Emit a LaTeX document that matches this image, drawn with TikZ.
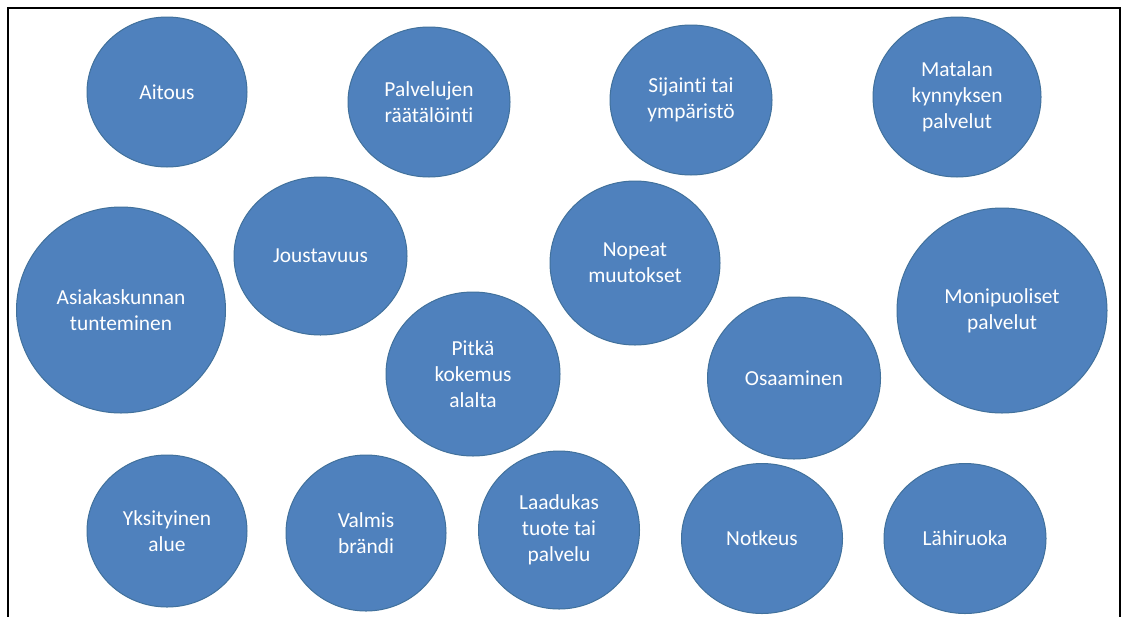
\documentclass[tikz,border=0pt]{standalone}
\usepackage{fontspec}
\setmainfont{Carlito}[Ligatures=NoCommon]
\usetikzlibrary{shapes.geometric}
\definecolor{ovalblue}{HTML}{4F81BD}
\definecolor{ovaledge}{HTML}{41719C}

\begin{document}
\begin{tikzpicture}[x=0.5pt,y=-0.5pt,
    oval/.style={ellipse,fill=ovalblue,draw=ovaledge,line width=0.5pt,text=white,align=center,inner sep=0pt,font=\fontsize{10.7}{13}\selectfont}]
    \clip (0,0) rectangle (1123,616);
    \fill[white] (0,0) rectangle (1123,616);
    \draw[line width=1pt] (8,8) rectangle (1120,640);
    \node[oval,minimum width=80pt,minimum height=75pt] (aitous) at (167,92) {Aitous};
    \node[oval,minimum width=81pt,minimum height=75pt] (raatalointi) at (429,102) {Palvelujen\\räätälöinti};
    \node[oval,minimum width=81pt,minimum height=75pt] (sijainti) at (691,100) {Sijainti tai\\ympäristö};
    \node[oval,minimum width=84pt,minimum height=80pt] (kynnys) at (957,97) {Matalan\\kynnyksen\\palvelut};
    \node[oval,minimum width=86.5pt,minimum height=79pt] (joustavuus) at (320.5,256) {Joustavuus};
    \node[oval,minimum width=85pt,minimum height=82pt] (nopeat) at (635,263) {Nopeat\\muutokset};
    \node[oval,minimum width=104.5pt,minimum height=103pt] (asiakas) at (121,310) {Asiakaskunnan\\tunteminen};
    \node[oval,minimum width=105pt,minimum height=102.5pt] (monipuoliset) at (1002,310.5) {Monipuoliset\\palvelut};
    \node[oval,minimum width=87pt,minimum height=82pt] (pitka) at (473,374) {Pitkä\\kokemus\\alalta};
    \node[oval,minimum width=86.5pt,minimum height=81pt] (osaaminen) at (794,378) {Osaaminen};
    \node[oval,minimum width=80pt,minimum height=76pt] (yksityinen) at (167,531) {Yksityinen\\alue};
    \node[oval,minimum width=80pt,minimum height=78pt] (brandi) at (366,533) {Valmis\\brändi};
    \node[oval,minimum width=80.5pt,minimum height=79pt] (laadukas) at (559,530) {Laadukas\\tuote tai\\palvelu};
    \node[oval,minimum width=80.5pt,minimum height=75pt] (notkeus) at (762,538.5) {Notkeus};
    \node[oval,minimum width=81pt,minimum height=75pt] (lahiruoka) at (965,538.5) {Lähiruoka};
\end{tikzpicture}
\end{document}
